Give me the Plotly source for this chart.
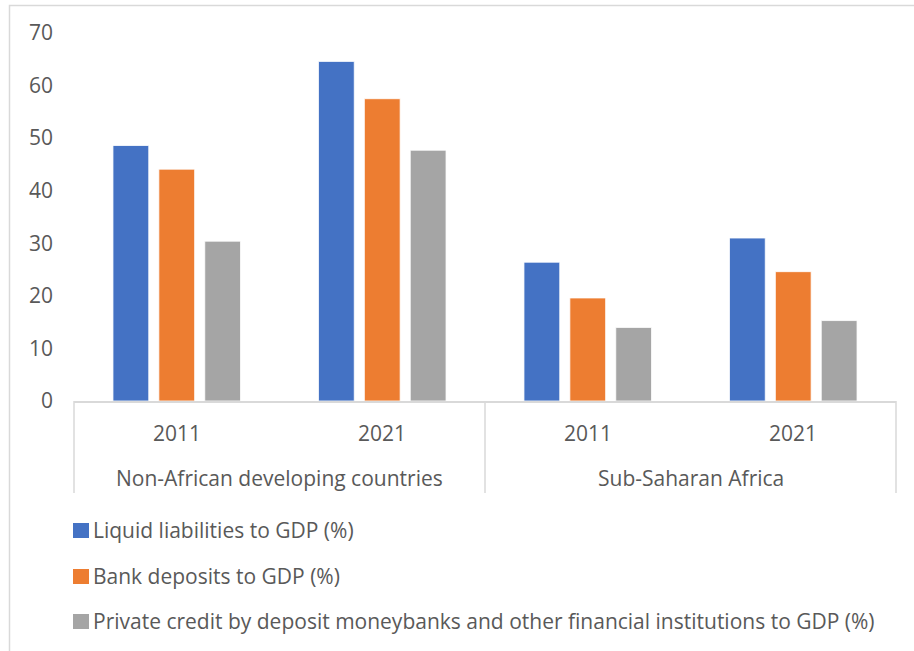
import plotly.graph_objects as go

# Data
regions = ["Non-African developing countries", "Non-African developing countries",
           "Sub-Saharan Africa", "Sub-Saharan Africa"]
years = ["2011", "2021", "2011", "2021"]

liquid_liabilities = [48.6, 64.6, 26.4, 31.0]
bank_deposits = [44.1, 57.5, 19.6, 24.6]
private_credit = [30.4, 47.7, 14.0, 15.3]

series_names = [
    "Liquid liabilities to GDP (%)",
    "Bank deposits to GDP (%)",
    "Private credit by deposit moneybanks and other financial institutions to GDP (%)",
]
series_values = [liquid_liabilities, bank_deposits, private_credit]
series_colors = ["#4472C4", "#ED7D31", "#A5A5A5"]

FONT = "Open Sans"
FS = 21
TEXT = "#595959"
LINE = "#D9D9D9"

# Plot-area geometry (pixels) used to place the axis labels and legend
W, H = 914, 651
ML, MR, MT, MB = 74, 18, 33, 250
PW, PH = W - ML - MR, H - MT - MB


def px_x(p):
    return (p - ML) / PW


def px_y(p):
    return (H - MB - p) / PH


fig = go.Figure()
for name, vals, col in zip(series_names, series_values, series_colors):
    fig.add_trace(go.Bar(
        x=[regions, years], y=vals, name=name,
        marker=dict(color=col, line=dict(color="white", width=0.8)),
        showlegend=False,
    ))

n = len(years)
annotations = []
shapes = []

# Inner level: year labels under each category
for i, yr in enumerate(years):
    annotations.append(dict(
        xref="paper", yref="paper", x=(i + 0.5) / n, y=px_y(433),
        text=yr, showarrow=False, xanchor="center", yanchor="middle",
        font=dict(family=FONT, size=FS, color=TEXT),
    ))

# Outer level: region labels and separators between regions
bounds = [0]
for i in range(1, n):
    if regions[i] != regions[i - 1]:
        bounds.append(i)
bounds.append(n)
for a, b in zip(bounds[:-1], bounds[1:]):
    annotations.append(dict(
        xref="paper", yref="paper", x=(a + b) / 2 / n, y=px_y(478),
        text=regions[a], showarrow=False, xanchor="center", yanchor="middle",
        font=dict(family=FONT, size=FS, color=TEXT),
    ))
for b in bounds:
    shapes.append(dict(
        type="line", xref="paper", yref="paper",
        x0=b / n, x1=b / n, y0=0, y1=px_y(493),
        line=dict(color=LINE, width=1.5),
    ))

# Legend: colour squares followed by series names
legend_rows = [530, 576, 621]
for name, col, yc in zip(series_names, series_colors, legend_rows):
    shapes.append(dict(
        type="rect", xref="paper", yref="paper",
        x0=px_x(73), x1=px_x(89), y0=px_y(yc + 8), y1=px_y(yc - 7),
        line=dict(width=0), fillcolor=col,
    ))
    annotations.append(dict(
        xref="paper", yref="paper", x=px_x(91), y=px_y(yc),
        text=name, showarrow=False, xanchor="left", yanchor="middle",
        font=dict(family=FONT, size=FS, color=TEXT),
    ))

# Outer chart frame (open to the right and bottom)
shapes.append(dict(
    type="rect", xref="paper", yref="paper",
    x0=px_x(9.5), x1=px_x(930), y0=px_y(670), y1=px_y(5.5),
    line=dict(color=LINE, width=1.5), fillcolor="rgba(0,0,0,0)",
    layer="below",
))

fig.update_layout(
    width=W, height=H,
    margin=dict(l=ML, r=MR, t=MT, b=MB),
    paper_bgcolor="white", plot_bgcolor="white",
    barmode="group", bargap=0.33, bargroupgap=0.22,
    font=dict(family=FONT, size=FS, color=TEXT),
    showlegend=False,
    xaxis=dict(
        type="multicategory",
        showline=True, linecolor=LINE, linewidth=1.5,
        showdividers=False, showticklabels=False,
        ticks="", showgrid=False,
    ),
    yaxis=dict(
        range=[0, 70], dtick=10, showgrid=False, zeroline=False,
        showline=False, ticks="",
        tickfont=dict(family=FONT, size=FS, color=TEXT),
        ticklabelstandoff=20,
    ),
    annotations=annotations,
    shapes=shapes,
)

fig.write_html("out.html")
